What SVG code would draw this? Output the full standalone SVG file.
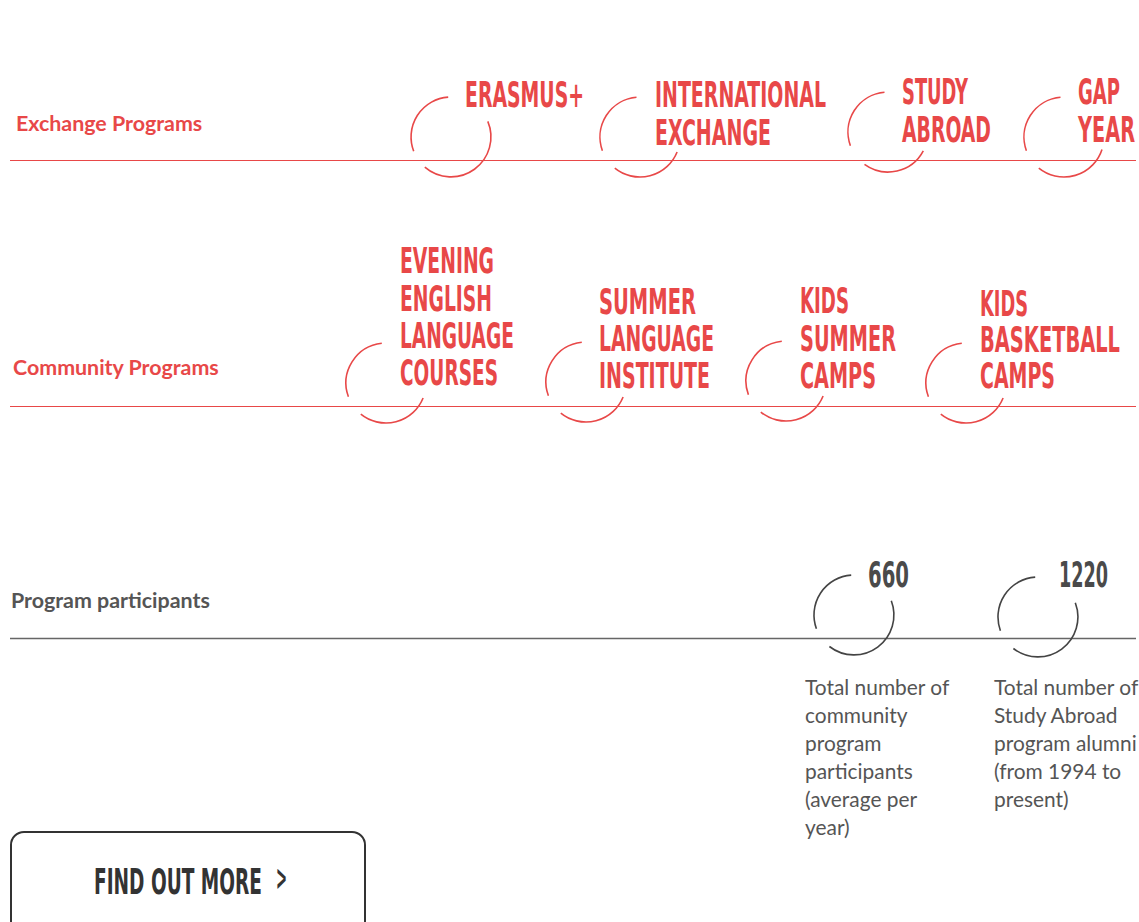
<svg xmlns="http://www.w3.org/2000/svg" width="1139" height="922" viewBox="0 0 1139 922">
<style>
.big{font-family:"Liberation Sans Narrow","DejaVu Sans Condensed","Liberation Sans",sans-serif;font-weight:bold;font-size:35px;}
.red{fill:#e84848;}
.dark{fill:#4a4a4a;}
.lbl{font-family:Lato,"Liberation Sans",sans-serif;font-weight:bold;font-size:21.4px;}
.body{font-family:Lato,"Liberation Sans",sans-serif;font-size:20.9px;fill:#555;}
.arcR{fill:none;stroke:#e84848;stroke-width:1.6;}
.arcG{fill:none;stroke:#444;stroke-width:1.6;}
.lineR{stroke:#e84848;stroke-width:1.1;}
.lineG{stroke:#666;stroke-width:1.3;}
</style>
<rect width="1139" height="922" fill="#fff"/>

<g id="connectors">
<line class="lineR" x1="10" y1="160.5" x2="1136" y2="160.5"/>
<line class="lineR" x1="10" y1="406.5" x2="1136" y2="406.5"/>
<line class="lineG" x1="10" y1="638.5" x2="1136" y2="638.5"/>
</g>

<g id="label-exchange"><text class="lbl red" x="16" y="131">Exchange Programs</text></g>
<g id="label-community"><text class="lbl red" x="13" y="375">Community Programs</text></g>
<g id="label-participants"><text class="lbl" fill="#555" x="11" y="608">Program participants</text></g>

<g id="erasmus">
<path class="arcR" d="M448.2,97.1 A40,40 0 0 0 413.7,151.3"/>
<path class="arcR" d="M487.8,121.4 A40,40 0 0 1 424.8,167.2"/>
<text class="big red" x="465" y="107" textLength="119" lengthAdjust="spacingAndGlyphs">ERASMUS+</text>
</g>

<g id="international">
<path class="arcR" d="M636.5,97.2 A40,40 0 0 0 602.4,150.7"/>
<path class="arcR" d="M677.1,152 A40,40 0 0 1 614.8,168.1"/>
<text class="big red" x="655" y="107" textLength="171" lengthAdjust="spacingAndGlyphs">INTERNATIONAL</text>
<text class="big red" x="655" y="145" textLength="116" lengthAdjust="spacingAndGlyphs">EXCHANGE</text>
</g>

<g id="study-abroad">
<path class="arcR" d="M884.5,92.2 A40,40 0 0 0 850.4,145.7"/>
<path class="arcR" d="M923.3,150.8 A40,40 0 0 1 864.5,164.4"/>
<text class="big red" x="902" y="104" textLength="66" lengthAdjust="spacingAndGlyphs">STUDY</text>
<text class="big red" x="902" y="142" textLength="89" lengthAdjust="spacingAndGlyphs">ABROAD</text>
</g>

<g id="gap-year">
<path class="arcR" d="M1060.5,97.2 A40,40 0 0 0 1026.4,150.7"/>
<path class="arcR" d="M1102,149.4 A40,40 0 0 1 1038.8,168.1"/>
<text class="big red" x="1078" y="104" textLength="42" lengthAdjust="spacingAndGlyphs">GAP</text>
<text class="big red" x="1078" y="142" textLength="57" lengthAdjust="spacingAndGlyphs">YEAR</text>
</g>

<g id="evening-english">
<path class="arcR" d="M381.8,343.2 A40,40 0 0 0 348.4,396.7"/>
<path class="arcR" d="M423.1,398 A40,40 0 0 1 360.8,414.1"/>
<text class="big red" x="400" y="273" textLength="94" lengthAdjust="spacingAndGlyphs">EVENING</text>
<text class="big red" x="400" y="311" textLength="92" lengthAdjust="spacingAndGlyphs">ENGLISH</text>
<text class="big red" x="400" y="348" textLength="114" lengthAdjust="spacingAndGlyphs">LANGUAGE</text>
<text class="big red" x="400" y="385" textLength="98" lengthAdjust="spacingAndGlyphs">COURSES</text>
</g>

<g id="summer-language">
<path class="arcR" d="M581.8,342.2 A40,40 0 0 0 548.4,395.7"/>
<path class="arcR" d="M623.1,397 A40,40 0 0 1 560.8,413.1"/>
<text class="big red" x="599" y="314" textLength="97" lengthAdjust="spacingAndGlyphs">SUMMER</text>
<text class="big red" x="599" y="351" textLength="115" lengthAdjust="spacingAndGlyphs">LANGUAGE</text>
<text class="big red" x="599" y="388" textLength="111" lengthAdjust="spacingAndGlyphs">INSTITUTE</text>
</g>

<g id="kids-summer">
<path class="arcR" d="M781.8,341.2 A40,40 0 0 0 748.4,394.7"/>
<path class="arcR" d="M823.1,396 A40,40 0 0 1 760.8,412.1"/>
<text class="big red" x="800" y="313" textLength="49" lengthAdjust="spacingAndGlyphs">KIDS</text>
<text class="big red" x="800" y="351" textLength="96" lengthAdjust="spacingAndGlyphs">SUMMER</text>
<text class="big red" x="800" y="388" textLength="76" lengthAdjust="spacingAndGlyphs">CAMPS</text>
</g>

<g id="kids-basketball">
<path class="arcR" d="M961.8,343.2 A40,40 0 0 0 928.4,396.7"/>
<path class="arcR" d="M1003.1,398 A40,40 0 0 1 940.8,414.1"/>
<text class="big red" x="980" y="316" textLength="48" lengthAdjust="spacingAndGlyphs">KIDS</text>
<text class="big red" x="980" y="352" textLength="140" lengthAdjust="spacingAndGlyphs">BASKETBALL</text>
<text class="big red" x="980" y="388" textLength="75" lengthAdjust="spacingAndGlyphs">CAMPS</text>
</g>

<g id="stat-660">
<path class="arcG" d="M851.2,575.1 A40,40 0 0 0 816.4,628.7"/>
<path class="arcG" d="M891.3,600.7 A40,40 0 0 1 829.4,646.5"/>
<text class="big dark" x="868" y="587" textLength="41" lengthAdjust="spacingAndGlyphs">660</text>
<text class="body" x="805"><tspan x="805" y="695">Total number of</tspan><tspan x="805" y="723">community</tspan><tspan x="805" y="751">program</tspan><tspan x="805" y="779">participants</tspan><tspan x="805" y="807">(average per</tspan><tspan x="805" y="835">year)</tspan></text>
</g>

<g id="stat-1220">
<path class="arcG" d="M1035.2,577.1 A40,40 0 0 0 1000.4,630.7"/>
<path class="arcG" d="M1075.3,602.7 A40,40 0 0 1 1013.4,648.5"/>
<text class="big dark" x="1059" y="587" textLength="49" lengthAdjust="spacingAndGlyphs">1220</text>
<text class="body" x="994"><tspan x="994" y="695">Total number of</tspan><tspan x="994" y="723">Study Abroad</tspan><tspan x="994" y="751">program alumni</tspan><tspan x="994" y="779">(from 1994 to</tspan><tspan x="994" y="807">present)</tspan></text>
</g>

<g id="find-out-more">
<rect x="11" y="832" width="354" height="110" rx="13" ry="13" fill="none" stroke="#333" stroke-width="2"/>
<text class="big" fill="#333" x="94" y="894" textLength="168" lengthAdjust="spacingAndGlyphs">FIND OUT MORE</text>
<text class="big" fill="#333" x="276" y="890" font-size="24" textLength="11" lengthAdjust="spacingAndGlyphs">&gt;</text>
</g>
</svg>
